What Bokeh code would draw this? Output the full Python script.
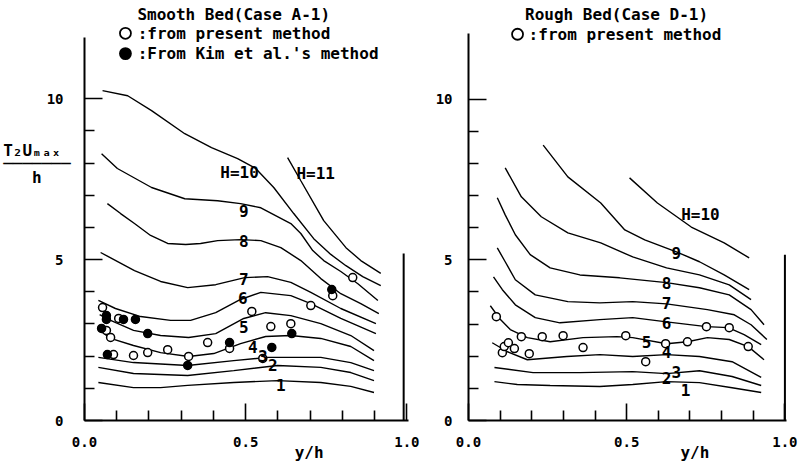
from bokeh.plotting import figure
from bokeh.layouts import row
from bokeh.models import FixedTicker, PrintfTickFormatter, Range1d
from bokeh.core.properties import value
from bokeh.embed import file_html
from bokeh.resources import INLINE

FONT = "DejaVu Sans Mono"
WEIGHT = "bold"
NB = "\u00a0"

# ---------------- Smooth bed (Case A-1) ----------------
A_H1_x = [0.043, 0.152, 0.236, 0.320, 0.463, 0.599, 0.733, 0.826, 0.898]
A_H1_y = [1.18, 1.02, 1.02, 1.09, 1.18, 1.24, 1.18, 1.06, 0.87]
A_H2_x = [0.043, 0.152, 0.320, 0.463, 0.599, 0.733, 0.826, 0.898]
A_H2_y = [1.65, 1.46, 1.40, 1.55, 1.71, 1.65, 1.49, 1.24]
A_H3_x = [0.043, 0.152, 0.320, 0.463, 0.568, 0.733, 0.826, 0.898]
A_H3_y = [1.96, 1.80, 1.71, 1.86, 1.96, 1.96, 1.80, 1.55]
A_H4_x = [0.047, 0.081, 0.152, 0.236, 0.323, 0.401, 0.484, 0.562, 0.640, 0.733, 0.826, 0.898]
A_H4_y = [2.80, 2.55, 2.33, 2.11, 1.99, 2.08, 2.39, 2.61, 2.64, 2.55, 2.30, 1.86]
A_H5_x = [0.047, 0.081, 0.152, 0.236, 0.323, 0.407, 0.494, 0.562, 0.640, 0.733, 0.826, 0.898]
A_H5_y = [3.29, 3.11, 2.80, 2.64, 2.58, 2.70, 3.17, 3.35, 3.26, 3.01, 2.64, 2.17]
A_H6_x = [0.043, 0.096, 0.174, 0.267, 0.329, 0.407, 0.484, 0.547, 0.640, 0.702, 0.795, 0.904]
A_H6_y = [3.73, 3.48, 3.23, 3.11, 3.11, 3.35, 3.76, 3.98, 3.88, 3.63, 3.17, 2.70]
A_H7_x = [0.050, 0.155, 0.236, 0.320, 0.407, 0.497, 0.568, 0.640, 0.702, 0.795, 0.904]
A_H7_y = [5.22, 4.66, 4.32, 4.13, 4.22, 4.44, 4.47, 4.29, 3.98, 3.48, 3.01]
A_H8_x = [0.071, 0.112, 0.155, 0.205, 0.258, 0.314, 0.360, 0.413, 0.484, 0.547, 0.609, 0.671, 0.733, 0.795, 0.857, 0.913]
A_H8_y = [6.74, 6.43, 6.12, 5.75, 5.50, 5.47, 5.50, 5.59, 5.62, 5.59, 5.37, 4.97, 4.41, 3.94, 3.63, 3.32]
A_H9_x = [0.053, 0.102, 0.208, 0.311, 0.413, 0.484, 0.547, 0.640, 0.671, 0.708, 0.742, 0.795, 0.848, 0.910]
A_H9_y = [8.29, 7.83, 7.24, 6.89, 6.83, 6.74, 6.61, 6.12, 5.81, 5.28, 4.97, 4.63, 4.25, 3.73]
A_H10_x = [0.056, 0.134, 0.208, 0.311, 0.394, 0.475, 0.531, 0.587, 0.649, 0.711, 0.764, 0.811, 0.863, 0.919]
A_H10_y = [10.25, 10.09, 9.63, 8.91, 8.48, 8.14, 7.83, 7.24, 6.43, 5.65, 5.16, 4.81, 4.47, 4.19]
A_H11_x = [0.630, 0.671, 0.742, 0.811, 0.857, 0.919]
A_H11_y = [8.17, 7.45, 6.21, 5.37, 4.97, 4.57]

A_open_x = [0.056, 0.106, 0.068, 0.081, 0.090, 0.152, 0.196, 0.258, 0.323, 0.382, 0.450,
            0.519, 0.578, 0.640, 0.553, 0.702, 0.770, 0.832]
A_open_y = [3.51, 3.17, 2.80, 2.58, 2.05, 2.02, 2.11, 2.20, 1.99, 2.42, 2.24,
            3.39, 2.92, 3.01, 1.93, 3.57, 3.88, 4.44]
A_kim_x = [0.068, 0.068, 0.121, 0.158, 0.196, 0.053, 0.071, 0.320, 0.450, 0.581, 0.643, 0.767]
A_kim_y = [3.26, 3.14, 3.14, 3.14, 2.70, 2.86, 2.05, 1.71, 2.42, 2.27, 2.70, 4.07]

A_lab_text = ["H=10", "H=11", "9", "8", "7", "6", "5", "4", "3", "2", "1"]
A_lab_x = [0.481, 0.717, 0.494, 0.494, 0.494, 0.491, 0.494, 0.522, 0.553, 0.584, 0.609]
A_lab_y = [7.70, 7.67, 6.52, 5.59, 4.41, 3.82, 2.89, 2.27, 1.99, 1.71, 1.09]

# header texts (title + legend rows) of the smooth-bed panel
A_title = "Smooth Bed(Case A-1)"
A_leg_open = ":from present method"
A_leg_kim = ":From Kim et al.'s method"

# ---------------- Rough bed (Case D-1) ----------------
D_c1_x = [0.082, 0.154, 0.258, 0.415, 0.519, 0.626, 0.730, 0.833, 0.925]
D_c1_y = [1.21, 1.12, 1.09, 1.06, 1.12, 1.21, 1.18, 1.02, 0.87]
D_c2_x = [0.082, 0.204, 0.352, 0.519, 0.626, 0.730, 0.833, 0.925]
D_c2_y = [1.65, 1.49, 1.49, 1.52, 1.46, 1.55, 1.37, 1.09]
D_c3_x = [0.075, 0.123, 0.186, 0.311, 0.415, 0.519, 0.626, 0.730, 0.833, 0.925]
D_c3_y = [2.42, 2.14, 1.89, 1.99, 2.05, 1.99, 2.05, 1.99, 1.83, 1.34]
D_c4_x = [0.069, 0.101, 0.132, 0.186, 0.258, 0.362, 0.469, 0.519, 0.626, 0.692, 0.755, 0.824, 0.884, 0.934]
D_c4_y = [3.57, 3.14, 2.83, 2.58, 2.45, 2.58, 2.61, 2.58, 2.39, 2.45, 2.58, 2.52, 2.30, 1.89]
D_c5_x = [0.079, 0.107, 0.148, 0.211, 0.289, 0.415, 0.519, 0.626, 0.752, 0.821, 0.871, 0.925]
D_c5_y = [4.47, 4.07, 3.60, 3.20, 3.04, 3.14, 3.20, 3.07, 2.92, 2.89, 2.67, 2.36]
D_c6_x = [0.091, 0.116, 0.148, 0.211, 0.314, 0.415, 0.519, 0.626, 0.755, 0.840, 0.893, 0.943]
D_c6_y = [5.37, 4.94, 4.38, 3.91, 3.70, 3.66, 3.70, 3.63, 3.45, 3.29, 2.98, 2.52]
D_c7_x = [0.091, 0.116, 0.148, 0.195, 0.258, 0.352, 0.478, 0.626, 0.730, 0.824, 0.893, 0.934]
D_c7_y = [6.93, 6.40, 5.78, 5.16, 4.75, 4.53, 4.44, 4.29, 4.13, 3.91, 3.45, 2.98]
D_c8_x = [0.116, 0.167, 0.230, 0.314, 0.418, 0.519, 0.626, 0.730, 0.824, 0.893]
D_c8_y = [7.86, 6.96, 6.34, 5.84, 5.53, 5.09, 4.75, 4.53, 4.22, 3.76]
D_c9_x = [0.236, 0.314, 0.418, 0.494, 0.557, 0.657, 0.730, 0.808, 0.887]
D_c9_y = [8.57, 7.58, 6.77, 5.93, 5.62, 5.25, 4.94, 4.53, 4.07]
D_c10_x = [0.509, 0.597, 0.704, 0.808, 0.887]
D_c10_y = [7.55, 6.77, 6.02, 5.53, 5.06]

D_open_x = [0.088, 0.107, 0.113, 0.126, 0.145, 0.167, 0.192, 0.233, 0.299, 0.362, 0.497,
            0.560, 0.623, 0.692, 0.752, 0.824, 0.884]
D_open_y = [3.23, 2.11, 2.30, 2.42, 2.24, 2.61, 2.08, 2.61, 2.64, 2.27, 2.64,
            1.83, 2.39, 2.45, 2.92, 2.89, 2.30]

D_lab_text = ["H=10", "9", "8", "7", "6", "5", "4", "3", "2", "1"]
D_lab_x = [0.733, 0.657, 0.626, 0.626, 0.626, 0.563, 0.626, 0.657, 0.626, 0.686]
D_lab_y = [6.40, 5.22, 4.29, 3.66, 3.04, 2.45, 2.14, 1.52, 1.32, 0.96]

D_title = "Rough Bed(Case D-1)"
D_leg_open = ":from present method"

# axis ticks
X_MAJOR = [0.0, 0.5, 1.0]
X_MINOR = [0.1, 0.2, 0.3, 0.4, 0.6, 0.7, 0.8, 0.9]
Y_MAJOR = [0, 5, 10]
Y_MINOR = [1, 2, 3, 4, 6, 7, 8, 9]

Y_LABEL = ("T\u2082U\u2098\u2090\u2093" + NB + "\n" + "\u2500" * 7 + "\n" + NB * 3 + "h" + NB * 3
           + ("\n" + NB) * 7)


def make_fig(width, bl, br, bb, ytop, yaxis_top, ystand, xpad):
    p = figure(width=width, height=466, x_range=Range1d(0, 1.005), y_range=Range1d(0, ytop),
               output_backend="svg", toolbar_location=None,
               min_border_left=bl, min_border_right=br, min_border_top=0, min_border_bottom=bb)
    p.outline_line_color = None
    p.grid.visible = False
    p.background_fill_color = "white"
    p.border_fill_color = "white"
    for ax in (p.xaxis[0], p.yaxis[0]):
        ax.axis_line_width = 2
        ax.axis_line_color = "black"
        ax.major_tick_line_width = 1.6
        ax.minor_tick_line_width = 1.6
        ax.major_tick_line_color = "black"
        ax.minor_tick_line_color = "black"
        ax.major_tick_out = 0
        ax.minor_tick_out = 0
        ax.minor_tick_in = 10
        ax.major_label_text_font = FONT
        ax.major_label_text_font_style = WEIGHT
        ax.major_label_text_font_size = "14px"
        ax.major_label_text_color = "black"
        ax.axis_label_text_font = FONT
        ax.axis_label_text_font_style = WEIGHT
        ax.axis_label_text_color = "black"
        ax.axis_label_text_font_size = "16px"
    p.xaxis.ticker = FixedTicker(ticks=X_MAJOR, minor_ticks=X_MINOR)
    p.xaxis.formatter = PrintfTickFormatter(format="%.1f")
    p.xaxis.major_tick_in = 17
    p.xaxis.major_label_standoff = 16
    p.xaxis.axis_label = NB * xpad + "y/h"
    p.xaxis.axis_label_standoff = -7
    p.yaxis.ticker = FixedTicker(ticks=Y_MAJOR, minor_ticks=Y_MINOR)
    p.yaxis.bounds = (0, yaxis_top)
    p.yaxis.major_tick_in = 18
    p.yaxis.major_label_standoff = ystand
    return p


def texts(p, xs, ys, labels, size, align):
    p.text(xs, ys, text=labels, text_font=value(FONT), text_font_size=size,
           text_font_style=WEIGHT, text_align=align, text_baseline="middle",
           text_color="black")


# ---- left panel ----
p1 = make_fig(422, 84, 14, 46, 13.05, 11.9, 21, 13)
for xs, ys in [(A_H1_x, A_H1_y), (A_H2_x, A_H2_y), (A_H3_x, A_H3_y), (A_H4_x, A_H4_y),
               (A_H5_x, A_H5_y), (A_H6_x, A_H6_y), (A_H7_x, A_H7_y), (A_H8_x, A_H8_y),
               (A_H9_x, A_H9_y), (A_H10_x, A_H10_y), (A_H11_x, A_H11_y)]:
    p1.line(xs, ys, line_color="black", line_width=1.4)
p1.line([0.99, 0.99], [0, 5.19], line_color="black", line_width=2)
p1.scatter(A_open_x, A_open_y, marker="circle", size=8, fill_color="white",
           line_color="black", line_width=1.5)
p1.scatter(A_kim_x, A_kim_y, marker="circle", size=8, fill_color="black",
           line_color="black", line_width=1.5)
texts(p1, A_lab_x, A_lab_y, A_lab_text, "16px", "center")
# header: title and legend
texts(p1, [0.463], [12.62], [A_title], "16px", "center")
p1.scatter([0.127], [12.03], marker="circle", size=11, fill_color="white",
           line_color="black", line_width=1.8)
p1.scatter([0.127], [11.40], marker="circle", size=11, fill_color="black",
           line_color="black", line_width=1.8)
texts(p1, [0.165, 0.165], [12.03, 11.40], [A_leg_open, A_leg_kim], "16px", "left")
p1.yaxis.axis_label = Y_LABEL
p1.yaxis.axis_label_orientation = "horizontal"
p1.yaxis.axis_label_text_line_height = 0.7
p1.yaxis.axis_label_standoff = -27

# ---- right panel ----
p2 = make_fig(376, 46, 12, 45, 13.07, 12.05, 16, 14)
for xs, ys in [(D_c1_x, D_c1_y), (D_c2_x, D_c2_y), (D_c3_x, D_c3_y), (D_c4_x, D_c4_y),
               (D_c5_x, D_c5_y), (D_c6_x, D_c6_y), (D_c7_x, D_c7_y), (D_c8_x, D_c8_y),
               (D_c9_x, D_c9_y), (D_c10_x, D_c10_y)]:
    p2.line(xs, ys, line_color="black", line_width=1.4)
p2.line([1.0, 1.0], [0, 5.16], line_color="black", line_width=2)
p2.scatter(D_open_x, D_open_y, marker="circle", size=8, fill_color="white",
           line_color="black", line_width=1.5)
texts(p2, D_lab_x, D_lab_y, D_lab_text, "16px", "center")
texts(p2, [0.468], [12.64], [D_title], "16px", "center")
p2.scatter([0.155], [12.02], marker="circle", size=11, fill_color="white",
           line_color="black", line_width=1.8)
texts(p2, [0.19], [12.02], [D_leg_open], "16px", "left")

layout = row(p1, p2)
open("out.html", "w").write(file_html(layout, INLINE))
